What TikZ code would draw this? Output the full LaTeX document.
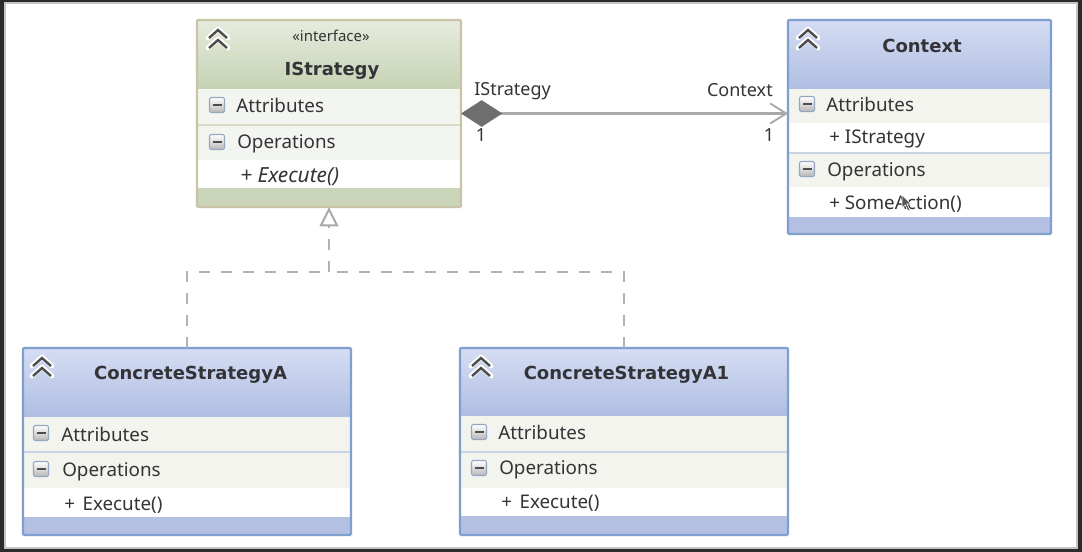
\documentclass[tikz,border=0pt]{standalone}
\usepackage{fontspec}
\setmainfont{Noto Sans}
\newfontfamily\titlefont{DejaVu Sans}
\usetikzlibrary{arrows.meta}
\definecolor{frameC}{HTML}{2B2B2D}
\definecolor{frameL}{HTML}{C4C4C4}
\definecolor{blueT}{HTML}{D5DDF3}
\definecolor{blueB}{HTML}{AFBEE2}
\definecolor{blueF}{HTML}{B3C0E1}
\definecolor{blueE}{HTML}{7F9FCF}
\definecolor{blueR}{HTML}{F3F4EE}
\definecolor{blueD}{HTML}{C9D3E6}
\definecolor{greenT}{HTML}{E6ECDD}
\definecolor{greenB}{HTML}{C6D2B4}
\definecolor{greenF}{HTML}{CAD5B9}
\definecolor{greenE}{HTML}{C9C4A6}
\definecolor{greenR}{HTML}{F3F5F0}
\definecolor{greenD}{HTML}{DADAC4}
\definecolor{ink}{HTML}{333338}
\definecolor{conn}{HTML}{A9A9A9}
\definecolor{diam}{HTML}{6E6E6E}
\tikzset{
  x=0.75pt,y=-0.75pt,
  boxedge/.style={draw,line width=1.6pt,inner sep=0pt,outer sep=0pt,rounded corners=0.8pt},
  title/.style={font=\titlefont\fontsize{13.5}{16}\selectfont\bfseries,text=ink,inner sep=0pt},
  stereo/.style={font=\fontsize{11.2}{13}\selectfont,text=ink,inner sep=0pt},
  row/.style={font=\fontsize{14.1}{16}\selectfont,text=ink,anchor=west,inner sep=0pt},
  lbl/.style={font=\fontsize{13.5}{15}\selectfont,text=ink,inner sep=0pt},
  conline/.style={draw=conn,line width=2.3pt},
  dashline/.style={draw=conn!90,line width=1.9pt,dash pattern=on 8.5pt off 8pt},
}
% collapse chevrons
\newcommand{\chev}[2]{%
  \begin{scope}[shift={(#1,#2)}]
    \draw[white,line width=3.6pt,line cap=round,line join=round] (-10,-2)--(0,-11)--(10,-2) (-10,8)--(0,-1)--(10,8);
    \draw[black!70,line width=1.8pt,line join=miter] (-9,-2)--(0,-10)--(9,-2) (-9,8)--(0,0)--(9,8);
  \end{scope}}
% collapse box with minus
\newcommand{\minusbox}[2]{%
  \begin{scope}[shift={(#1,#2)}]
    \shade[top color=white,bottom color=black!28,draw=blueE!80!black!70,line width=0.8pt,rounded corners=1.5pt] (-7.5,-7.5) rectangle (7.5,7.5);
    \fill[black!70] (-4.5,-1.2) rectangle (4.5,1.4);
  \end{scope}}
% header, rows
\newcommand{\hdr}[6]{\shade[top color=#5,bottom color=#6] (#1,#3) rectangle (#2,#4);}
\newcommand{\band}[5]{\fill[#5] (#1,#3) rectangle (#2,#4);}
\begin{document}
\begin{tikzpicture}
\useasboundingbox (0,0) rectangle (1082,552);
\fill[frameC] (0,0) rectangle (1082,552);
\fill[frameL] (4,2) rectangle (1078,549);
\fill[white] (6,4) rectangle (1076,547);

% IStrategy
\hdr{197}{461}{20}{89}{greenT}{greenB}
\band{197}{461}{89}{124}{greenR}
\band{197}{461}{124}{126}{greenD}
\band{197}{461}{126}{160}{greenR}
\band{197}{461}{160}{188}{white}
\band{197}{461}{188}{207}{greenF}
\node[boxedge,draw=greenE,minimum width=264*0.75pt,minimum height=187*0.75pt] (istrategy) at (329,113.5) {};
\node[stereo] (istereo) at (331,36) {«interface»};
\node[title] (ititle) at (332,71) {IStrategy};
\node[row] (iattr) at (236,105) {Attributes};
\node[row] (iops) at (237,144) {Operations};
\node[row,font=\fontsize{15.6}{17}\selectfont\itshape] (iexec) at (240,177) {+ Execute()};
\chev{218}{40}
\minusbox{217}{105}
\minusbox{217}{142}

% Context
\hdr{788}{1051}{20}{89}{blueT}{blueB}
\band{788}{1051}{89}{123}{blueR}
\band{788}{1051}{123}{152}{white}
\band{788}{1051}{152}{154}{blueD}
\band{788}{1051}{154}{187}{blueR}
\band{788}{1051}{187}{217}{white}
\band{788}{1051}{217}{234}{blueF}
\node[boxedge,draw=blueE,minimum width=263*0.75pt,minimum height=214*0.75pt] (context) at (919.5,127) {};
\node[title] (ctitle) at (922,46) {Context};
\node[row] (cattr) at (826,104) {Attributes};
\node[row] (cprop) at (829,139) {+ IStrategy};
\node[row] (cops) at (827,172) {Operations};
\node[row] (cact) at (829,204) {+ SomeAction()};
\chev{808}{40}
\minusbox{807}{104}
\minusbox{807}{169}
% mouse pointer over the text
\fill[black!65,draw=white,line width=0.5pt] (902,195) -- (902,208) -- (905,205) -- (908,211) -- (910,210) -- (907,204) -- (911,204) -- cycle;

% ConcreteStrategyA
\hdr{23}{351}{348}{417}{blueT}{blueB}
\band{23}{351}{417}{451}{blueR}
\band{23}{351}{451}{453}{blueD}
\band{23}{351}{453}{488}{blueR}
\band{23}{351}{488}{517}{white}
\band{23}{351}{517}{535}{blueF}
\node[boxedge,draw=blueE,minimum width=328*0.75pt,minimum height=187*0.75pt] (stratA) at (187,441.5) {};
\node[title] (atitle) at (190.5,375) {ConcreteStrategyA};
\node[row] (aattr) at (61,434) {Attributes};
\node[row] (aops) at (62,472) {Operations};
\node[row] (aexec) at (64,505) {+\kern2pt{} Execute()};
\chev{42}{368}
\minusbox{41}{433}
\minusbox{41}{469}

% ConcreteStrategyA1
\hdr{460}{788}{348}{416}{blueT}{blueB}
\band{460}{788}{416}{451}{blueR}
\band{460}{788}{451}{453}{blueD}
\band{460}{788}{453}{488}{blueR}
\band{460}{788}{488}{516}{white}
\band{460}{788}{516}{535}{blueF}
\node[boxedge,draw=blueE,minimum width=328*0.75pt,minimum height=187*0.75pt] (stratB) at (624,441.5) {};
\node[title] (btitle) at (626.5,375) {ConcreteStrategyA1};
\node[row] (battr) at (498,432) {Attributes};
\node[row] (bops) at (499,470) {Operations};
\node[row] (bexec) at (501,503) {+\kern2pt{} Execute()};
\chev{481}{368}
\minusbox{479}{432}
\minusbox{479}{468}

% Connectors
\coordinate (junction) at (istrategy.south |- 0,272);
\draw[dashline] (stratA.north) |- (junction);
\draw[dashline] (stratB.north) |- (junction);
\draw[dashline,-{Triangle[open,fill=white,length=14.5pt,width=14pt,line width=1.5pt,color=conn]}] (junction) -- (istrategy.south);
\draw[conline,{Diamond[fill=diam,color=diam,length=31pt,width=20pt]}-{Straight Barb[length=12pt,width=15pt,color=conn,line width=1.4pt]}] (istrategy.east) -- (istrategy.east -| context.west);

% Connector labels
\node[lbl,anchor=west] (lstrat) at (474,91) {IStrategy};
\node[lbl,anchor=east] (lctx) at (773,90) {Context};
\node[lbl] (lone) at (481,135) {1};
\node[lbl] (ltwo) at (769,135) {1};
\end{tikzpicture}
\end{document}
